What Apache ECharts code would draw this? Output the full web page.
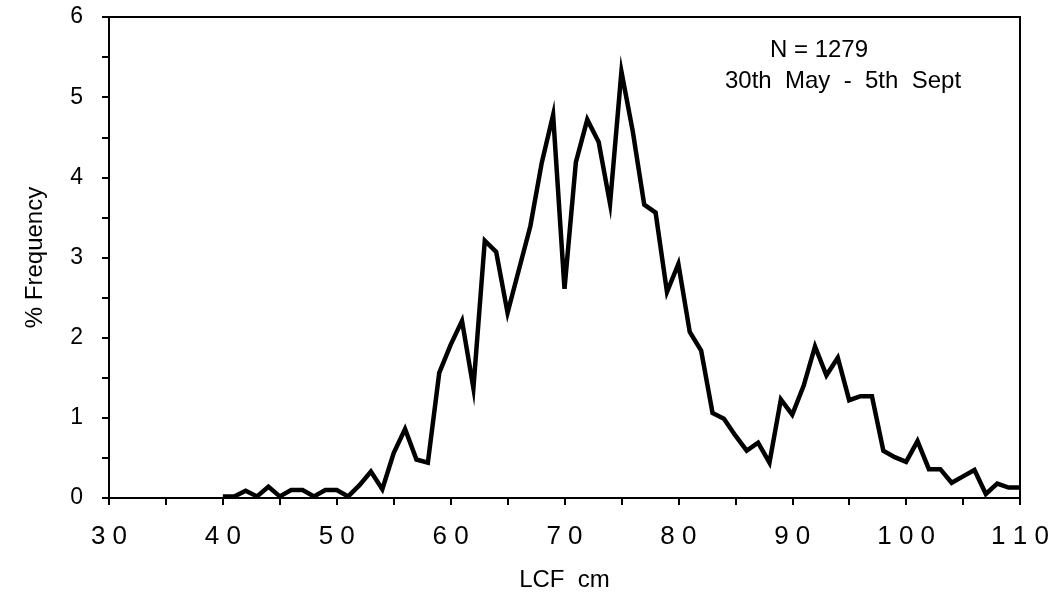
<!DOCTYPE html>
<html>
<head>
<meta charset="utf-8">
<script src="https://cdn.jsdelivr.net/npm/echarts@6/dist/echarts.min.js"></script>
<style>
html,body{margin:0;padding:0;background:#fff;}
#chart{width:1058px;height:600px;}
</style>
</head>
<body>
<div id="chart"></div>
<script>
// LCF (cm) length classes
const lengths = [40,41,42,43,44,45,46,47,48,49,50,51,52,53,54,55,56,57,58,59,
  60,61,62,63,64,65,66,67,68,69,70,71,72,73,74,75,76,77,78,79,
  80,81,82,83,84,85,86,87,88,89,90,91,92,93,94,95,96,97,98,99,
  100,101,102,103,104,105,106,107,108,109,110];
// % frequency
const freq = [0.02,0.02,0.09,0.02,0.14,0.02,0.1,0.1,0.02,0.1,0.1,0.02,0.16,0.33,0.11,0.56,0.86,0.48,0.44,1.56,
  1.91,2.21,1.37,3.21,3.07,2.31,2.85,3.39,4.18,4.78,2.61,4.19,4.72,4.44,3.67,5.32,4.57,3.66,3.56,2.57,
  2.92,2.07,1.84,1.06,0.99,0.78,0.59,0.69,0.44,1.23,1.04,1.4,1.89,1.53,1.75,1.22,1.27,1.27,0.59,0.51,
  0.45,0.71,0.36,0.36,0.19,0.27,0.35,0.05,0.18,0.13,0.13];
const xTicks = {min:30, max:110, step:5, labelStep:10};
const yTicks = {min:0, max:6, step:0.5};
const annotation = ['N = 1279', '30th  May  -  5th  Sept'];
const xName = 'LCF  cm';
const yName = '% Frequency';

const FONT = '"Liberation Sans", Arial, Helvetica, sans-serif';
const chart = echarts.init(document.getElementById('chart'), null, {renderer:'canvas'});
chart.setOption({
  backgroundColor:'#fff',
  animation:false,
  grid:{left:109, right:38, top:17, bottom:102, show:true, borderColor:'#000', borderWidth:2, backgroundColor:'transparent'},
  xAxis:{
    type:'value', min:xTicks.min, max:xTicks.max, interval:xTicks.step,
    name:xName, nameLocation:'middle', nameGap:70,
    nameTextStyle:{fontFamily:FONT, fontSize:24, color:'#000'},
    axisLine:{show:true, lineStyle:{color:'#000', width:2}},
    axisTick:{show:true, inside:false, length:7, lineStyle:{color:'#000', width:2}},
    axisLabel:{fontFamily:FONT, fontSize:26, color:'#000', margin:26,
      formatter:v => (v % xTicks.labelStep === 0) ? String(v).split('').join(' ') : ''},
    splitLine:{show:false}
  },
  yAxis:{
    type:'value', min:yTicks.min, max:yTicks.max, interval:yTicks.step,
    name:yName, nameLocation:'middle', nameGap:62, nameRotate:90,
    nameTextStyle:{fontFamily:FONT, fontSize:24, color:'#000'},
    axisLine:{show:true, lineStyle:{color:'#000', width:2}},
    axisTick:{show:true, inside:false, length:7, lineStyle:{color:'#000', width:2}},
    axisLabel:{fontFamily:FONT, fontSize:23, color:'#000', margin:26,
      formatter:v => Number.isInteger(v) ? String(v) : ''},
    splitLine:{show:false}
  },
  graphic:[
    {type:'text', x:819, y:50, style:{text:annotation[0], font:'24px '+FONT, fill:'#000', textAlign:'center', textVerticalAlign:'middle'}},
    {type:'text', x:843, y:81, style:{text:annotation[1], font:'24px '+FONT, fill:'#000', textAlign:'center', textVerticalAlign:'middle'}}
  ],
  series:[{
    type:'line',
    data:lengths.map((x,i)=>[x, freq[i]]),
    showSymbol:false,
    lineStyle:{color:'#000', width:4.5, join:'miter'},
    itemStyle:{color:'#000'},
    clip:true
  }]
});
</script>
</body>
</html>
